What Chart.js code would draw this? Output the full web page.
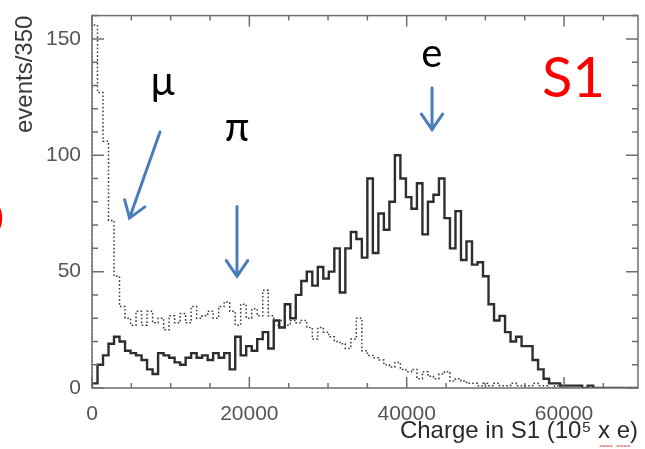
<!DOCTYPE html>
<html>
<head>
<meta charset="utf-8">
<script src="https://cdn.jsdelivr.net/npm/chart.js@4/dist/chart.umd.min.js"></script>
<style>
  html, body { margin: 0; padding: 0; background: #fff; }
  #wrap { width: 645px; height: 449px; }
</style>
</head>
<body>
<div id="wrap"><canvas id="s1Chart" width="645" height="449"></canvas></div>
<script>
// Histogram bins (charge in S1, bins of 700)
const binWidth = 700;

// solid histogram (electrons)
const solidCounts = [
  2, 10, 14, 19, 22, 20, 16, 15, 14, 12,
  8, 6, 15, 14, 13, 11, 10, 13, 15, 13,
  14, 12, 15, 13, 15, 8, 22, 14, 18, 16,
  21, 24, 17, 29, 26, 36, 30, 40, 46, 50,
  44, 52, 47, 50, 60, 41, 60, 67, 64, 56,
  90, 58, 75, 68, 80, 100, 90, 82, 77, 88,
  66, 80, 83, 90, 73, 60, 76, 55, 63, 53,
  54, 48, 36, 29, 31, 24, 20, 22, 18, 18,
  12, 8, 4, 2, 2, 1, 1, 1, 1, 0,
  1, 0, 0, 0, 0, 0, 0, 0, 0
];

// dotted histogram (muons / pions)
const dottedCounts = [
  156, 127, 106, 72, 48, 35, 30, 27, 33, 27,
  33, 28, 30, 25, 31, 28, 32, 28, 35, 30,
  31, 33, 30, 35, 37, 33, 27, 36, 30, 34,
  31, 42, 31, 27, 29, 27, 29, 28, 29, 26,
  21, 26, 24, 22, 20, 19, 17, 21, 30, 16,
  14, 13, 12, 10, 9, 11, 8, 7, 8, 4,
  7, 5, 4, 6, 7, 3, 4, 3, 2, 2,
  1, 2, 1, 2, 1, 1, 2, 1, 1, 1,
  2, 1, 1, 0, 1, 0, 0, 0, 0, 0,
  0, 0, 0, 0, 0, 0, 0, 0, 0
];

const xTicks = [0, 20000, 40000, 60000];
const yTicks = [0, 50, 100, 150];
const xMax = 69400;
const yMax = 160;

// particle labels and arrows, in data units
const notes = [
  { text: "\u03bc", x: 9000, y: 126, from: [8640, 110], to: [4770, 73] },
  { text: "\u03c0", x: 18430, y: 106, from: [18430, 78], to: [18430, 48] },
  { text: "e", x: 43200, y: 138, from: [43220, 129], to: [43220, 111] }
];

function toSteps(counts) {
  const pts = [{ x: 0, y: 0 }];
  counts.forEach((c, i) => pts.push({ x: i * binWidth, y: c }));
  pts.push({ x: counts.length * binWidth, y: 0 });
  return pts;
}

const frameAndNotes = {
  id: "frameAndNotes",
  afterDraw(chart) {
    const { ctx, chartArea: a, scales: { x, y } } = chart;
    ctx.save();

    // frame with inward ticks on all four sides
    ctx.strokeStyle = "#6e6e6e";
    ctx.lineWidth = 1.5;
    ctx.strokeRect(a.left, a.top, a.right - a.left, a.bottom - a.top);
    ctx.beginPath();
    for (let v = 0; v <= xMax; v += 5000) {
      const px = x.getPixelForValue(v);
      const len = v % 20000 === 0 ? 11 : 5;
      ctx.moveTo(px, a.bottom); ctx.lineTo(px, a.bottom - len);
      ctx.moveTo(px, a.top); ctx.lineTo(px, a.top + len);
    }
    for (let v = 0; v <= yMax; v += 10) {
      const py = y.getPixelForValue(v);
      const len = v % 50 === 0 ? 12 : 6;
      ctx.moveTo(a.left, py); ctx.lineTo(a.left + len, py);
      ctx.moveTo(a.right, py); ctx.lineTo(a.right - len, py);
    }
    ctx.stroke();

    // annotations
    ctx.fillStyle = "#000";
    ctx.font = "40px Lato, 'Noto Sans', sans-serif";
    ctx.textAlign = "center";
    ctx.textBaseline = "alphabetic";
    ctx.strokeStyle = "#4a7ebb";
    ctx.lineWidth = 3;
    ctx.lineCap = "round";
    notes.forEach(n => {
      ctx.fillText(n.text, x.getPixelForValue(n.x), y.getPixelForValue(n.y));
      const x0 = x.getPixelForValue(n.from[0]), y0 = y.getPixelForValue(n.from[1]);
      const x1 = x.getPixelForValue(n.to[0]), y1 = y.getPixelForValue(n.to[1]);
      const ang = Math.atan2(y1 - y0, x1 - x0);
      ctx.beginPath();
      ctx.moveTo(x0, y0); ctx.lineTo(x1, y1);
      ctx.moveTo(x1 - 19 * Math.cos(ang - 0.6), y1 - 19 * Math.sin(ang - 0.6));
      ctx.lineTo(x1, y1);
      ctx.lineTo(x1 - 19 * Math.cos(ang + 0.6), y1 - 19 * Math.sin(ang + 0.6));
      ctx.stroke();
    });

    ctx.fillStyle = "#ff0000";
    ctx.font = "56px Lato, 'Noto Sans', sans-serif";
    ctx.fillText("S1", x.getPixelForValue(61200), y.getPixelForValue(125));
    // cut-off red glyph at the left edge
    ctx.textAlign = "left";
    ctx.font = "44px Lato, 'Noto Sans', sans-serif";
    ctx.fillText("0", -22, 234);

    // spell-check squiggle under "x e"
    ctx.strokeStyle = "#e03030";
    ctx.lineWidth = 1.2;
    ctx.setLineDash([2, 1.5]);
    ctx.beginPath();
    ctx.moveTo(600, 446); ctx.lineTo(612, 446);
    ctx.moveTo(617, 446); ctx.lineTo(630, 446);
    ctx.stroke();
    ctx.restore();
  }
};

const ctx = document.getElementById("s1Chart").getContext("2d");

new Chart(ctx, {
  type: "line",
  data: {
    datasets: [
      {
        label: "solid",
        data: toSteps(solidCounts),
        stepped: true,
        borderColor: "#2e2e2e",
        borderWidth: 2.4,
        pointRadius: 0,
        fill: false
      },
      {
        label: "dotted",
        data: toSteps(dottedCounts),
        stepped: true,
        borderColor: "#3c3c3c",
        borderWidth: 1.5,
        borderDash: [1.6, 2.2],
        pointRadius: 0,
        fill: false
      }
    ]
  },
  options: {
    responsive: false,
    animation: false,
    layout: { padding: { top: 10, right: 7, left: 0, bottom: 0 } },
    plugins: {
      legend: { display: false },
      tooltip: { enabled: false }
    },
    scales: {
      x: {
        type: "linear",
        min: 0,
        max: xMax,
        afterBuildTicks: s => { s.ticks = xTicks.map(v => ({ value: v })); },
        afterFit: s => { s.height = 61; },
        grid: { display: false },
        border: { display: false },
        ticks: {
          color: "#555",
          padding: 6,
          maxRotation: 0,
          font: { family: "'Liberation Sans', Arial, sans-serif", size: 21 },
          callback: v => String(v)
        },
        title: {
          display: true,
          text: "Charge in S1 (10\u2075 x e)",
          align: "end",
          color: "#2a2a2a",
          padding: { top: 0, bottom: 3 },
          font: { family: "'Liberation Sans', Arial, sans-serif", size: 24 }
        }
      },
      y: {
        min: 0,
        max: yMax,
        afterBuildTicks: s => { s.ticks = yTicks.map(v => ({ value: v })); },
        afterFit: s => { s.width = 92; },
        grid: { display: false },
        border: { display: false },
        ticks: {
          color: "#555",
          padding: 3,
          font: { family: "'Liberation Sans', Arial, sans-serif", size: 21 },
          callback: v => String(v)
        },
        title: {
          display: true,
          text: "events/350",
          align: "end",
          color: "#3a3a3a",
          padding: { top: 11, bottom: 0 },
          font: { family: "'Liberation Sans', Arial, sans-serif", size: 24 }
        }
      }
    }
  },
  plugins: [frameAndNotes]
});
</script>
</body>
</html>
